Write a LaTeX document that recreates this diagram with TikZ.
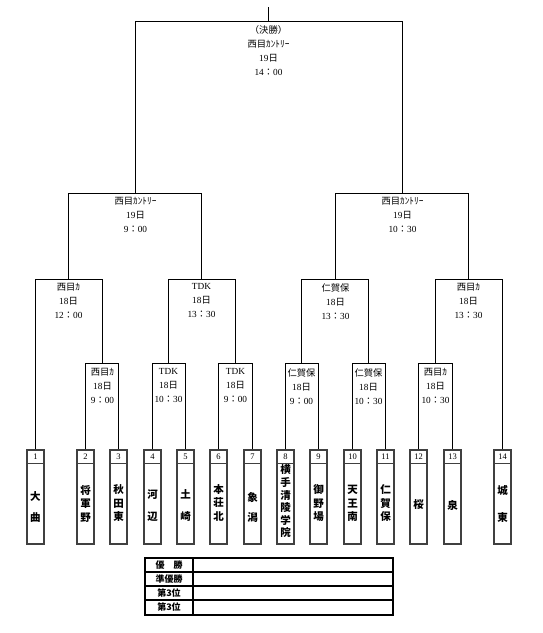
\documentclass[tikz,border=0pt]{standalone}
\usepackage{fontspec}
\setmainfont{Liberation Serif}
\newfontfamily\jpf{Noto Sans CJK JP}
\newcommand{\jt}[1]{{\jpf #1}}
\begin{document}
\begin{tikzpicture}[x=1pt,y=-1pt,
  bline/.style={line width=1.7pt, black},
  teambox/.style={draw=black!75, line width=1.4pt, minimum width=17pt, minimum height=94pt, inner sep=0pt, fill=white},
  numtxt/.style={font=\fontsize{8.5}{9}\selectfont, inner sep=0pt},
  nametxt/.style={font=\jpf\bfseries\fontsize{10.5}{13.5}\selectfont, align=center, inner sep=0pt},
  info/.style={font=\fontsize{9.3}{14}\selectfont, align=center, anchor=north, inner sep=0pt},
  lbl/.style={font=\jpf\bfseries\fontsize{9}{9}\selectfont, inner sep=0pt},
]
\useasboundingbox (0,0) rectangle (542,633);

% team boxes
\foreach \i/\x in {1/35.5,2/85.5,3/118.5,4/152.5,5/185.5,6/218.5,7/252.5,8/285.5,9/318.5,10/352.5,11/385.5,12/418.5,13/452.5,14/502.5}{
  \node[teambox] (t\i) at (\x,497) {};
  \draw[draw=black!75, line width=1.2pt] ([yshift=-14pt]t\i.north west) -- ([yshift=-14pt]t\i.north east);
  \node[numtxt] (n\i) at ([yshift=-7pt]t\i.north) {\i};
}

% team names
\node[nametxt] (nm1) at (35.5,506.5) {大\\[7.5pt]曲};
\node[nametxt] (nm2) at (85.5,503.5) {将\\軍\\野};
\node[nametxt] (nm3) at (118.5,503.5) {秋\\田\\東};
\node[nametxt] (nm4) at (152.5,506) {河\\[8.5pt]辺};
\node[nametxt] (nm5) at (185.5,506) {土\\[8.5pt]崎};
\node[nametxt] (nm6) at (218.5,502.5) {本\\荘\\北};
\node[nametxt] (nm7) at (252.5,507) {象\\[6.5pt]潟};
\node[nametxt, font=\jpf\bfseries\fontsize{10.5}{12.6}\selectfont] (nm8) at (285.5,501.5) {横\\手\\清\\陵\\学\\院};
\node[nametxt] (nm9) at (318.5,503.5) {御\\野\\場};
\node[nametxt] (nm10) at (352.5,503.5) {天\\王\\南};
\node[nametxt] (nm11) at (385.5,503.5) {仁\\賀\\保};
\node[nametxt] (nm12) at (418.5,505) {桜};
\node[nametxt] (nm13) at (452.5,505) {泉};
\node[nametxt] (nm14) at (502.5,503.5) {城\\[13.5pt]東};

% match points
\coordinate (m23) at (102.5,363.5);
\coordinate (m45) at (168.5,363.5);
\coordinate (m67) at (235.5,363.5);
\coordinate (m89) at (301.5,363.5);
\coordinate (m1011) at (368.5,363.5);
\coordinate (m1213) at (435.5,363.5);
\coordinate (mA) at (68.5,279.5);
\coordinate (mB) at (201.5,279.5);
\coordinate (mC) at (335.5,279.5);
\coordinate (mD) at (468.5,279.5);
\coordinate (sL) at (135.5,193.5);
\coordinate (sR) at (402.5,193.5);
\coordinate (f) at (268.5,21.5);
\coordinate (ftop) at (268.5,7);

% brackets
\draw[bline] (t2.north) |- (m23) -| (t3.north);
\draw[bline] (t4.north) |- (m45) -| (t5.north);
\draw[bline] (t6.north) |- (m67) -| (t7.north);
\draw[bline] (t8.north) |- (m89) -| (t9.north);
\draw[bline] (t10.north) |- (m1011) -| (t11.north);
\draw[bline] (t12.north) |- (m1213) -| (t13.north);
\draw[bline] (t1.north) |- (mA) -| (m23);
\draw[bline] (m45) |- (mB) -| (m67);
\draw[bline] (m89) |- (mC) -| (m1011);
\draw[bline] (m1213) |- (mD) -| (t14.north);
\draw[bline] (mA) |- (sL) -| (mB);
\draw[bline] (mC) |- (sR) -| (mD);
\draw[bline] (sL) |- (f) -| (sR);
\draw[bline] (f) -- (ftop);

% match info
\node[info] (if) at ([yshift=-4pt]f) {\jt{（決勝）}\\[0.3pt]\jt{西目ｶﾝﾄﾘｰ}\\19\jt{日}\\14\jt{：}00};
\node[info] (isL) at ([yshift=-3.5pt]sL) {\jt{西目ｶﾝﾄﾘｰ}\\19\jt{日}\\9\jt{：}00};
\node[info] (isR) at ([yshift=-3.5pt]sR) {\jt{西目ｶﾝﾄﾘｰ}\\19\jt{日}\\10\jt{：}30};
\node[info] (iA) at ([yshift=-3.5pt]mA) {\jt{西目ｶ}\\18\jt{日}\\12\jt{：}00};
\node[info] (iB) at ([yshift=-3.5pt]mB) {TDK\\18\jt{日}\\13\jt{：}30};
\node[info] (iC) at ([yshift=-3.5pt]mC) {\jt{仁賀保}\\18\jt{日}\\13\jt{：}30};
\node[info] (iD) at ([yshift=-3.5pt]mD) {\jt{西目ｶ}\\18\jt{日}\\13\jt{：}30};
\node[info] (i23) at ([yshift=-4.5pt]m23) {\jt{西目ｶ}\\18\jt{日}\\9\jt{：}00};
\node[info] (i45) at ([yshift=-4.5pt]m45) {TDK\\18\jt{日}\\10\jt{：}30};
\node[info] (i67) at ([yshift=-4.5pt]m67) {TDK\\18\jt{日}\\9\jt{：}00};
\node[info] (i89) at ([yshift=-4.5pt]m89) {\jt{仁賀保}\\18\jt{日}\\9\jt{：}00};
\node[info] (i1011) at ([yshift=-4.5pt]m1011) {\jt{仁賀保}\\18\jt{日}\\10\jt{：}30};
\node[info] (i1213) at ([yshift=-4.5pt]m1213) {\jt{西目ｶ}\\18\jt{日}\\10\jt{：}30};

% result table
\draw[black, line width=1.5pt] (145,558) rectangle (393,615);
\draw[black, line width=1.1pt] (145,572) -- (393,572);
\draw[black, line width=1.1pt] (145,586) -- (393,586);
\draw[black, line width=1.1pt] (145,600) -- (393,600);
\draw[black, line width=1.1pt] (193,558) -- (193,615);
\node[lbl] (r1) at (169,565) {優　勝};
\node[lbl] (r2) at (169,579) {準優勝};
\node[lbl] (r3) at (169,593) {第3位};
\node[lbl] (r4) at (169,607.5) {第3位};
\end{tikzpicture}
\end{document}
